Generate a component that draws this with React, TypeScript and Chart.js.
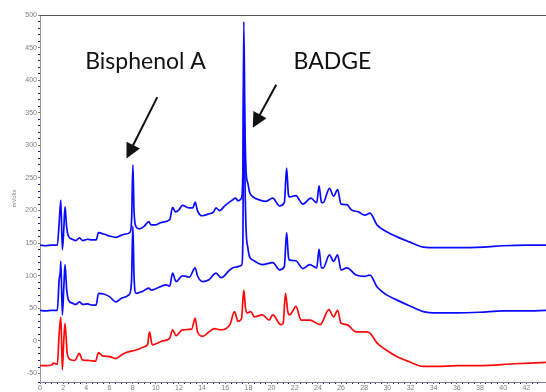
import React, { useEffect, useRef } from 'react';
import { Chart, registerables } from 'chart.js';

Chart.register(...registerables);

// Retention time (min) and signal (mVolts) for each trace
const upperTimes = [0, 0.5, 1.0, 1.5, 1.65, 1.8, 1.93, 2.05, 2.16, 2.3, 2.45, 2.8, 3.1, 3.4, 3.7, 4.1, 4.5, 4.85, 5.05, 5.5, 6.0, 6.55, 7.0, 7.4, 7.8, 7.92, 8.02, 8.12, 8.3, 8.6, 9.0, 9.4, 9.6, 10.0, 10.5, 11.2, 11.45, 11.7, 12.0, 12.3, 12.9, 13.2, 13.4, 13.6, 14.0, 14.6, 15.0, 15.2, 15.5, 16.0, 16.6, 16.9, 17.1, 17.4, 17.52, 17.6, 17.7, 17.8, 17.95, 18.1, 18.4, 19.0, 19.5, 20.1, 20.7, 21.1, 21.3, 21.45, 21.55, 22.1, 22.7, 23.4, 23.9, 24.1, 24.3, 24.45, 25.0, 25.35, 25.7, 26.0, 26.5, 26.9, 27.5, 28.05, 28.5, 29.1, 29.9, 30.8, 31.9, 33.1, 34.3, 36.0, 38.3, 40.0, 42.0, 43.7];
const upperSignal = [147, 146, 147, 147, 180, 216, 140, 170, 206, 175, 161, 156, 154, 158, 154, 156, 155, 155, 166, 164, 161, 159, 162, 164, 167, 190, 270, 200, 175, 172, 176, 183, 178, 178, 182, 186, 205, 198, 201, 208, 204, 204, 213, 200, 192, 195, 198, 204, 200, 208, 216, 219, 215, 219, 260, 490, 330, 260, 242, 228, 221, 216, 214, 219, 207, 212, 265, 225, 221, 223, 210, 219, 212, 238, 213, 212, 234, 222, 232, 210, 209, 201, 198, 193, 196, 178, 168, 160, 152, 144, 143, 143, 144, 146, 147, 147];

const middleTimes = [0, 0.5, 1.0, 1.5, 1.65, 1.75, 1.8, 1.93, 2.05, 2.16, 2.3, 2.45, 2.8, 3.1, 3.4, 3.7, 4.1, 4.5, 4.85, 5.05, 5.5, 6.0, 6.55, 7.1, 7.7, 7.9, 8.02, 8.12, 8.3, 8.85, 9.4, 9.6, 10.0, 10.9, 11.2, 11.45, 11.75, 12.3, 12.9, 13.4, 13.6, 14.05, 14.6, 15.2, 15.65, 16.4, 16.8, 17.4, 17.52, 17.6, 17.7, 17.8, 17.95, 18.1, 18.4, 19.2, 20.1, 20.7, 21.1, 21.3, 21.45, 21.55, 22.1, 22.7, 23.3, 23.9, 24.1, 24.3, 24.45, 25.0, 25.35, 25.7, 26.0, 26.5, 27.3, 28.0, 28.5, 29.1, 29.9, 30.8, 31.9, 33.1, 34.3, 36.0, 38.0, 40.0, 42.0, 43.7];
const middleSignal = [47, 46, 47, 47, 93, 106, 122, 40, 80, 117, 80, 63, 58, 56, 60, 56, 57, 55, 55, 73, 72, 68, 60, 66, 71, 90, 176, 100, 73, 76, 81, 78, 80, 86, 84, 104, 91, 100, 98, 112, 100, 91, 94, 104, 97, 109, 113, 116, 150, 419, 250, 170, 143, 129, 124, 117, 120, 109, 114, 166, 130, 124, 123, 111, 117, 112, 141, 112, 112, 132, 122, 132, 109, 112, 101, 99, 101, 83, 71, 63, 54, 45, 43, 43, 44, 46, 46, 47];

const lowerTimes = [0, 0.5, 1.0, 1.2, 1.5, 1.65, 1.8, 1.93, 2.05, 2.16, 2.35, 2.65, 3.0, 3.4, 3.65, 4.25, 4.8, 5.05, 5.4, 6.0, 6.55, 7.0, 7.4, 8.3, 9.0, 9.3, 9.45, 9.7, 10.6, 11.2, 11.45, 11.75, 12.3, 13.1, 13.4, 13.6, 14.05, 14.6, 15.05, 15.65, 16.4, 16.8, 17.1, 17.4, 17.6, 17.75, 17.9, 18.2, 18.5, 19.2, 19.8, 20.1, 20.8, 21.0, 21.2, 21.4, 21.55, 21.8, 22.1, 22.55, 23.3, 24.2, 24.95, 25.35, 25.7, 26.0, 26.5, 27.3, 28.2, 28.5, 29.1, 29.9, 30.8, 31.9, 33.1, 34.3, 36.0, 38.0, 41.0, 43.7];
const lowerSignal = [-38, -38, -37, -34, -36, 10, 37, -44, 0, 27, -19, -29, -30, -19, -29, -30, -31, -18, -23, -24, -27, -22, -18, -14, -9, -5, 14, -6, 0, 4, 17, 8, 17, 18, 35, 14, 7, 14, 19, 17, 25, 45, 30, 34, 78, 50, 43, 45, 37, 40, 32, 40, 25, 27, 73, 45, 40, 45, 53, 32, 32, 25, 48, 37, 47, 27, 25, 14, 14, 12, -3, -14, -24, -32, -39, -39, -38, -38, -35, -33];

// Axis extents and tick steps
const xMin = 0;
const xMax = 43.7;
const xTickStep = 0.5;
const xLabelEvery = 2;
const yMin = -63;
const yMax = 500;
const yTickStep = 10;
const yLabelEvery = 50;
const yAxisTitle = 'mVolts';

// Callouts (text anchor and arrow start/tip in data units)
const calloutLabels = ['Bisphenol A', 'BADGE'];
const calloutTextX = [3.9, 21.9];
const calloutTextY = [417, 417];
const arrowFromX = [10.13, 20.4];
const arrowFromY = [374, 393];
const arrowToX = [7.47, 18.38];
const arrowToY = [280, 327];

const toPoints = (xs: number[], ys: number[]) => xs.map((x, i) => ({ x, y: ys[i] }));
const isMultiple = (v: number, step: number) => {
  const r = Math.abs(v / step - Math.round(v / step));
  return r < 1e-6;
};

const framePlugin = {
  id: 'frameTop',
  afterDraw(chart: any) {
    const { ctx, chartArea } = chart;
    ctx.save();
    ctx.strokeStyle = '#555555';
    ctx.lineWidth = 1;
    ctx.beginPath();
    ctx.moveTo(chartArea.left, chartArea.top + 0.5);
    ctx.lineTo(chartArea.right, chartArea.top + 0.5);
    ctx.stroke();
    ctx.restore();
  },
};

const calloutPlugin = {
  id: 'callouts',
  afterDatasetsDraw(chart: any) {
    const { ctx } = chart;
    const xs = chart.scales.x;
    const ys = chart.scales.y;
    ctx.save();
    ctx.fillStyle = '#111111';
    ctx.strokeStyle = '#111111';
    ctx.font = '23px Lato, "Liberation Sans", sans-serif';
    ctx.textAlign = 'left';
    ctx.textBaseline = 'alphabetic';
    calloutLabels.forEach((label, i) => {
      ctx.fillText(label, xs.getPixelForValue(calloutTextX[i]), ys.getPixelForValue(calloutTextY[i]));
      const x0 = xs.getPixelForValue(arrowFromX[i]);
      const y0 = ys.getPixelForValue(arrowFromY[i]);
      const x1 = xs.getPixelForValue(arrowToX[i]);
      const y1 = ys.getPixelForValue(arrowToY[i]);
      const dx = x1 - x0;
      const dy = y1 - y0;
      const len = Math.hypot(dx, dy);
      const ux = dx / len;
      const uy = dy / len;
      const headLen = 15;
      const headHalf = 7.5;
      const bx = x1 - ux * headLen;
      const by = y1 - uy * headLen;
      ctx.lineWidth = 2;
      ctx.beginPath();
      ctx.moveTo(x0, y0);
      ctx.lineTo(bx + ux * 2, by + uy * 2);
      ctx.stroke();
      ctx.beginPath();
      ctx.moveTo(x1, y1);
      ctx.lineTo(bx - uy * headHalf, by + ux * headHalf);
      ctx.lineTo(bx + uy * headHalf, by - ux * headHalf);
      ctx.closePath();
      ctx.fill();
    });
    ctx.restore();
  },
};

export default function App() {
  const canvasRef = useRef<HTMLCanvasElement | null>(null);

  useEffect(() => {
    if (!canvasRef.current) return;
    const tickFont = { family: '"Liberation Sans", Arial, sans-serif', size: 7 };
    const lineStyle = { borderWidth: 1.7, pointRadius: 0, cubicInterpolationMode: 'monotone' as const, fill: false };
    const chart = new Chart(canvasRef.current, {
      type: 'line',
      data: {
        datasets: [
          { label: 'Sample 1', data: toPoints(upperTimes, upperSignal), borderColor: '#0a0aff', ...lineStyle },
          { label: 'Sample 2', data: toPoints(middleTimes, middleSignal), borderColor: '#0a0aff', ...lineStyle },
          { label: 'Blank', data: toPoints(lowerTimes, lowerSignal), borderColor: '#ff0a0a', ...lineStyle },
        ],
      },
      options: {
        animation: false,
        responsive: false,
        events: [],
        layout: { padding: { top: 15, left: 0, right: 0, bottom: 0 } },
        plugins: { legend: { display: false }, tooltip: { enabled: false } },
        scales: {
          x: {
            type: 'linear',
            min: xMin,
            max: xMax,
            afterFit: (scale: any) => {
              scale.height = 10;
              scale.paddingRight = 0;
              scale.paddingLeft = 0;
            },
            border: { display: true, color: '#7a7a9a', width: 1 },
            grid: {
              drawOnChartArea: false,
              drawTicks: true,
              tickLength: 2,
              tickColor: (c: any) => (c.tick && isMultiple(c.tick.value, xLabelEvery) ? '#666666' : '#1a1a99'),
            },
            ticks: {
              stepSize: xTickStep,
              autoSkip: false,
              maxRotation: 0,
              padding: 0,
              color: '#808080',
              font: tickFont,
              callback: (v: any) => (isMultiple(Number(v), xLabelEvery) ? String(Math.round(Number(v))) : ''),
            },
          },
          y: {
            type: 'linear',
            min: yMin,
            max: yMax,
            afterFit: (scale: any) => {
              scale.width = 40;
            },
            title: {
              display: true,
              text: yAxisTitle,
              color: '#808080',
              font: { family: '"Liberation Sans", Arial, sans-serif', size: 6 },
              padding: { top: 11, bottom: 0 },
            },
            border: { display: true, color: '#9a9a9a', width: 1 },
            grid: {
              drawOnChartArea: false,
              drawTicks: true,
              tickLength: 2,
              tickColor: (c: any) => (c.tick && isMultiple(c.tick.value, yLabelEvery) ? '#777777' : '#1a1a99'),
            },
            ticks: {
              stepSize: yTickStep,
              autoSkip: false,
              padding: 1,
              color: '#808080',
              font: tickFont,
              callback: (v: any) => (isMultiple(Number(v), yLabelEvery) ? String(Math.round(Number(v))) : ''),
            },
          },
        },
      },
      plugins: [framePlugin, calloutPlugin],
    });
    return () => chart.destroy();
  }, []);

  return (
    <div style={{ position: 'fixed', left: 0, top: 0, width: 546, height: 392, background: '#ffffff' }}>
      <canvas ref={canvasRef} width={546} height={392} style={{ display: 'block' }} />
    </div>
  );
}
